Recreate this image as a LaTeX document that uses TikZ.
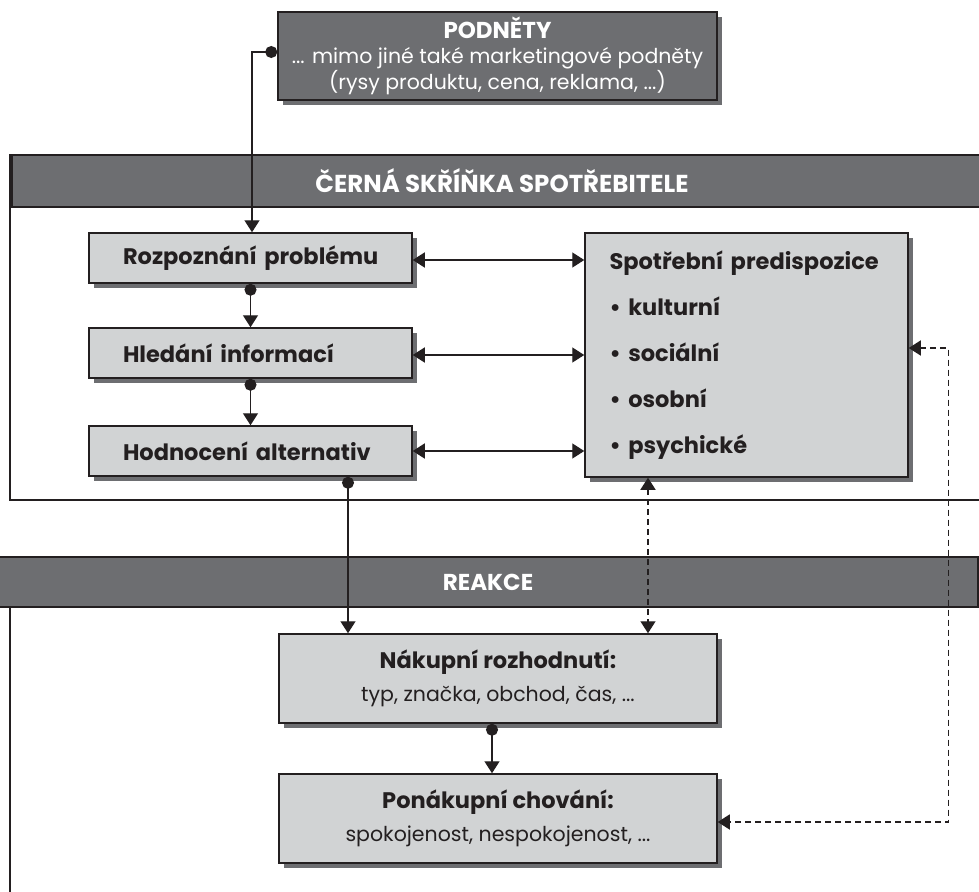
\documentclass[tikz,border=0pt]{standalone}
\usepackage{fontspec}
\setmainfont{Poppins}
\usetikzlibrary{arrows.meta,shadows,calc}
\definecolor{darkband}{HTML}{6D6E71}
\definecolor{lightbox}{HTML}{D1D3D4}
\definecolor{ink}{HTML}{231F20}
\definecolor{shade}{HTML}{6D6E71}
\newcommand{\boldline}[1]{{\bfseries\fontsize{22.5}{26}\selectfont #1}}
\begin{document}
\begin{tikzpicture}[x=1pt,y=-1pt,
  shadowed/.style={drop shadow={shadow xshift=5pt,shadow yshift=-5pt,fill=shade,opacity=1}},
  box/.style={shadowed,draw=ink,line width=1.5pt,fill=lightbox,text=ink,inner sep=0pt},
  stepbox/.style={box,minimum height=50pt,text width=285pt,inner xsep=19pt,align=left,
    font=\bfseries\fontsize{22.5}{27}\selectfont},
  bigbox/.style={box,minimum width=438pt,minimum height=89pt,align=center,
    font=\fontsize{20.5}{33}\selectfont},
  frame/.style={draw=ink,line width=1.3pt},
  band/.style={draw=ink,line width=1.3pt,fill=darkband,text=white,
    minimum width=980pt,inner sep=0pt},
  conn/.style={draw=ink,line width=1.4pt},
  tip/.tip={Triangle[length=12pt,width=15pt]},
  dot/.tip={Circle[length=12pt]},
  dashline/.style={conn,dash pattern=on 6pt off 4pt}
]
\useasboundingbox (0,0) rectangle (979,891);

% frames
\node[frame,minimum width=980pt,minimum height=345pt,inner sep=0pt] (blackframe) at (500,327.5) {};
\node[band,minimum height=52pt,font=\bfseries\fontsize{24.5}{28}\selectfont] (blackband) at (502,181) {ČERNÁ SKŘÍŇKA SPOTŘEBITELE};
\node[frame,minimum width=980pt,minimum height=343pt,inner sep=0pt] (reactframe) at (500,728.5) {};
\node[band,minimum height=50pt,font=\bfseries\fontsize{23}{26}\selectfont] (reactband) at (488,582) {REAKCE};

% stimuli
\node[shadowed,draw=ink,line width=1.5pt,fill=darkband,text=white,inner sep=0pt,
  minimum width=439pt,minimum height=88pt,align=center,
  font=\fontsize{20.5}{23}\selectfont] (podnety) at (497.5,56)
  {{\bfseries\fontsize{23}{25}\selectfont PODNĚTY}\\[2pt]... mimo jiné také marketingové podněty\\(rysy produktu, cena, reklama, ...)};

% process steps
\node[stepbox] (rozp) at (250.5,258) {\hspace*{15pt}Rozpoznání problému};
\node[stepbox] (hled) at (250.5,353) {\hspace*{15pt}Hledání informací};
\node[stepbox] (hodn) at (250.5,451) {\hspace*{15pt}Hodnocení alternativ};

% predispositions
\node[box,minimum width=323pt,minimum height=244pt,text width=290pt,inner xsep=16pt,
  align=left,font=\bfseries\fontsize{22.5}{27}\selectfont] (spot) at (746.5,355)
  {\hspace*{8pt}Spotřební predispozice\\[19pt]\hspace*{8pt}\textbullet\ kulturní\\[19pt]\hspace*{8pt}\textbullet\ sociální\\[19pt]\hspace*{8pt}\textbullet\ osobní\\[19pt]\hspace*{8pt}\textbullet\ psychické};

% reactions
\node[bigbox] (nak) at (498,678.5) {\boldline{Nákupní rozhodnutí:}\\typ, značka, obchod, čas, ...};
\node[bigbox] (pon) at (498,818.5) {\boldline{Ponákupní chování:}\\spokojenost, nespokojenost, ...};

% connectors
\draw[conn,{dot}-{tip}] ([yshift=4pt]podnety.west) -| ([xshift=1.5pt]rozp.north);
\draw[conn,{dot}-{tip}] (rozp.south) -- (hled.north);
\draw[conn,{dot}-{tip}] (hled.south) -- (hodn.north);
\coordinate (hodnout) at ($(hodn.south)+(97.5,0)$);
\draw[conn,{dot}-{tip}] (hodnout) -- (hodnout |- nak.north);
\draw[conn,{dot}-{tip}] ([xshift=-6pt]nak.south) -- ([xshift=-6pt]pon.north);
\draw[conn,{tip}-{tip}] ([yshift=-2pt]rozp.east) -- ([yshift=-2pt]rozp.east -| spot.west);
\draw[conn,{tip}-{tip}] ([yshift=-2pt]hled.east) -- ([yshift=-2pt]hled.east -| spot.west);
\draw[conn,{tip}-{tip}] (hodn.east) -- (hodn.east -| spot.west);
\coordinate (spotin) at ($(spot.south)+(-98.5,0)$);
\draw[dashline,{tip}-{tip}] (spotin) -- (spotin |- nak.north);
\draw[dashline,{tip}-{tip}] ([yshift=7pt]spot.east) -- ++(40,0) |- ([yshift=-3.5pt]pon.east);
\end{tikzpicture}
\end{document}
